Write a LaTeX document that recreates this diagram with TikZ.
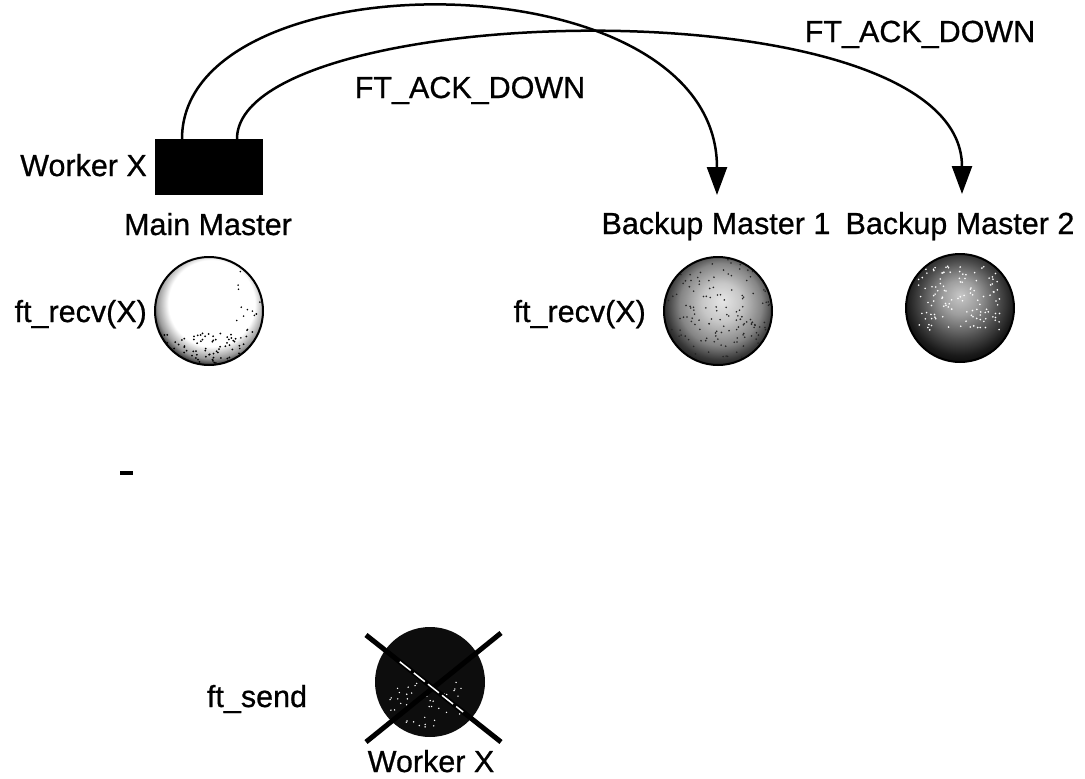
\documentclass[tikz,border=0pt]{standalone}
\usepackage{fontspec}
\setmainfont[FakeBold=0.7]{Liberation Sans}
\usetikzlibrary{arrows.meta,calc}
\pgfdeclareradialshading{sphA}{\pgfpoint{2bp}{6bp}}{color(0bp)=(white); color(20bp)=(white); color(25bp)=(black!40); color(28bp)=(black!85); color(31bp)=(black); color(50bp)=(black)}
\pgfdeclareradialshading{sphB}{\pgfpoint{2bp}{5bp}}{color(0bp)=(black!10); color(9bp)=(black!22); color(19bp)=(black!48); color(25bp)=(black!78); color(30bp)=(black!95); color(50bp)=(black)}
\pgfdeclareradialshading{sphC}{\pgfpoint{0bp}{6bp}}{color(0bp)=(black!22); color(8bp)=(black!38); color(18bp)=(black!70); color(25bp)=(black!90); color(31bp)=(black); color(50bp)=(black)}
\begin{document}
\begin{tikzpicture}[x=1pt,y=-1pt,
  lbl/.style={font=\fontsize{30.5}{36}\selectfont, inner sep=0pt},
  conn/.style={line width=2.5pt, -{Triangle[length=28pt,width=20pt]}},
  ballnode/.style={circle, draw=black, line width=2pt, minimum size=108pt, inner sep=0pt},
  crossline/.style={line width=5pt}]
\useasboundingbox[fill=white] (0,0) rectangle (1085,779);

% main master box
\node[fill=black, minimum width=108pt, minimum height=56pt, inner sep=0pt] (mm) at (209,167) {};
\node[lbl, anchor=base east] (wx1) at (147,176) {Worker X};
\node[lbl, anchor=base] (mml) at (208,235) {Main Master};

% connectors
\coordinate (s1) at (182,139);
\coordinate (s2) at (237,139);
\coordinate (t1) at (717,195);
\coordinate (t2) at (962,194);
\draw[conn] (s1) .. controls (182,-45) and (717,-45) .. (t1);
\draw[conn] (s2) .. controls (237,0) and (962,-20) .. (t2);
\node[lbl, anchor=base] (ack1) at (470,98) {FT\_ACK\_DOWN};
\node[lbl, anchor=base] (ack2) at (920,42) {FT\_ACK\_DOWN};

\node[lbl, anchor=base] (bm1) at (716,234) {Backup Master 1};
\node[lbl, anchor=base] (bm2) at (960,234) {Backup Master 2};

% spheres
\node[ballnode, shading=sphA] (c1) at (209,311) {};
\node[ballnode, shading=sphB] (c2) at (718,311) {};
\node[ballnode, shading=sphC] (c3) at (960,308) {};
\pgfmathsetseed{7}
\begin{scope}
\clip (c1) circle (53pt);
\foreach \i in {1,...,90} {\pgfmathsetmacro\dx{rand*52}\pgfmathsetmacro\dy{22+abs(rand)*30}\fill[black] ($(c1)+(\dx,\dy)$) circle (1pt);}
\foreach \i in {1,...,25} {\pgfmathsetmacro\dx{25+abs(rand)*27}\pgfmathsetmacro\dy{rand*40}\fill[black] ($(c1)+(\dx,\dy)$) circle (0.9pt);}
\end{scope}
\begin{scope}
\clip (c2) circle (53pt);
\foreach \i in {1,...,170} {\pgfmathsetmacro\dx{rand*52}\pgfmathsetmacro\dy{rand*52}\fill[black!85] ($(c2)+(\dx,\dy)$) circle (0.9pt);}
\end{scope}
\begin{scope}
\clip (c3) circle (53pt);
\foreach \i in {1,...,120} {\pgfmathsetmacro\dx{rand*42}\pgfmathsetmacro\dy{rand*32-10}\fill[white] ($(c3)+(\dx,\dy)$) circle (0.9pt);}
\end{scope}
\node[lbl, anchor=base east] (r1) at (147,322) {ft\_recv(X)};
\node[lbl, anchor=base east] (r2) at (646,322) {ft\_recv(X)};

% small mark
\draw[line width=3.5pt] (120,473) -- (133,473);

% failed worker
\node[circle, fill=black!95, minimum size=110pt, inner sep=0pt] (w) at (430,682) {};
\begin{scope}
\clip (w) circle (53pt);
\foreach \i in {1,...,45} {\pgfmathsetmacro\dx{rand*40}\pgfmathsetmacro\dy{abs(rand)*45}\fill[white] ($(w)+(\dx,\dy)$) circle (0.8pt);}
\end{scope}
\coordinate (xa) at (366,635);
\coordinate (xb) at (501,742);
\coordinate (xc) at (501,633);
\coordinate (xd) at (366,742);
\draw[crossline] (xa) -- (xb);
\draw[crossline] (xc) -- (xd);
\draw[white, line width=1.5pt, dash pattern=on 14pt off 4pt] ($(xa)!0.25!(xb)$) -- ($(xa)!0.72!(xb)$);
\node[lbl, anchor=base] (sendl) at (257,707) {ft\_send};
\node[lbl, anchor=base] (wx2) at (431,772) {Worker X};
\end{tikzpicture}
\end{document}
